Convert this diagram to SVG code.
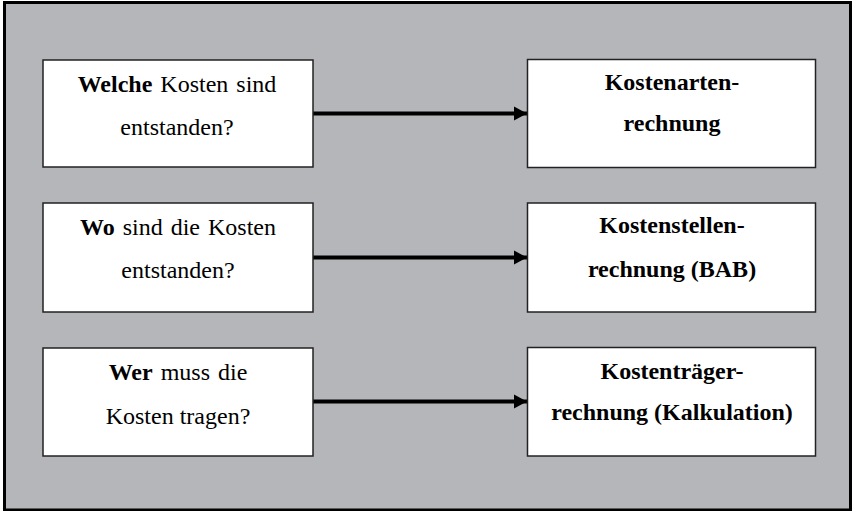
<svg xmlns="http://www.w3.org/2000/svg" width="853" height="511" viewBox="0 0 853 511">
<style>
.frame{fill:#b5b6ba;stroke:#000;stroke-width:3}
.box{fill:#fff;stroke:#222;stroke-width:1.5}
.t{font-family:'Liberation Serif','Times New Roman',serif;font-size:24px;fill:#000;text-anchor:middle}
.b{font-weight:bold}
.conn{stroke:#000;stroke-width:4;fill:none}
</style>
<defs>
<marker id="ah" markerUnits="userSpaceOnUse" markerWidth="14" markerHeight="15" refX="13" refY="7.5" orient="auto" overflow="visible">
<path d="M0,0.5 L13,7.5 L0,14.5 Z" fill="#000"/>
</marker>
</defs>
<rect class="frame" x="4.5" y="2.5" width="846" height="507.5"/>
<g id="connectors">
<line class="conn" x1="313" y1="113.5" x2="527" y2="113.5" marker-end="url(#ah)"/>
<line class="conn" x1="313" y1="257.5" x2="527" y2="257.5" marker-end="url(#ah)"/>
<line class="conn" x1="313" y1="401.5" x2="527" y2="401.5" marker-end="url(#ah)"/>
</g>
<g id="q1">
<rect class="box" x="43" y="60" width="270" height="107"/>
<text class="t" x="177" y="92" word-spacing="2"><tspan class="b">Welche</tspan> Kosten sind</text>
<text class="t" x="177" y="135">entstanden?</text>
</g>
<g id="q2">
<rect class="box" x="43" y="203" width="270" height="109"/>
<text class="t" x="178" y="235" word-spacing="2"><tspan class="b">Wo</tspan> sind die Kosten</text>
<text class="t" x="178" y="278">entstanden?</text>
</g>
<g id="q3">
<rect class="box" x="43" y="348" width="270" height="108"/>
<text class="t" x="178" y="380" word-spacing="2"><tspan class="b">Wer</tspan> muss die</text>
<text class="t" x="178" y="424">Kosten tragen?</text>
</g>
<g id="a1">
<rect class="box" x="527.5" y="59.5" width="288" height="108"/>
<text class="t b" x="672" y="90">Kostenarten-</text>
<text class="t b" x="672" y="131">rechnung</text>
</g>
<g id="a2">
<rect class="box" x="527.5" y="203" width="288" height="109"/>
<text class="t b" x="672" y="233">Kostenstellen-</text>
<text class="t b" x="672" y="277">rechnung (BAB)</text>
</g>
<g id="a3">
<rect class="box" x="527.5" y="347.5" width="288" height="108.5"/>
<text class="t b" x="672" y="379">Kostenträger-</text>
<text class="t b" x="672" y="420">rechnung (Kalkulation)</text>
</g>
</svg>
